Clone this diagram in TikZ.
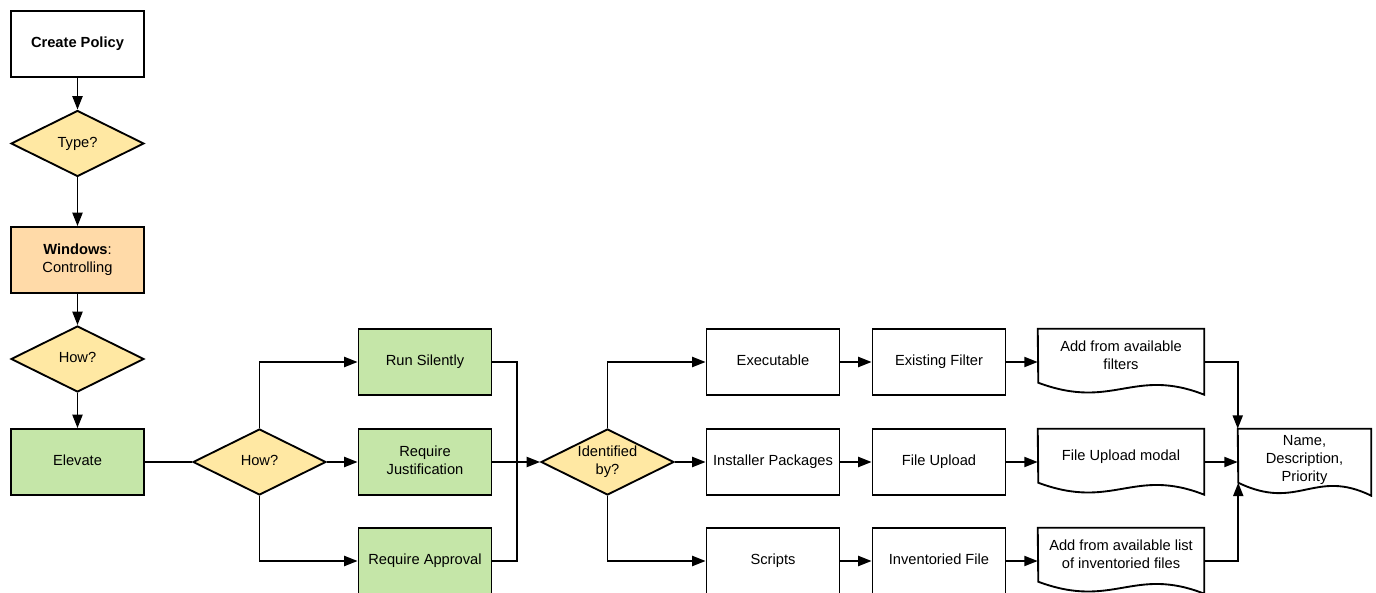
\documentclass[tikz,border=0pt]{standalone}
\usepackage{fontspec}
\setmainfont{Liberation Sans}
\usetikzlibrary{arrows.meta,shapes.geometric}
\definecolor{ylw}{HTML}{FFE8A3}
\definecolor{grn}{HTML}{C5E6A8}
\definecolor{org}{HTML}{FFDAA8}

\begin{document}
\begin{tikzpicture}[x=0.75pt,y=-0.75pt,
  font=\fontsize{11}{13.5}\selectfont,
  every node/.style={align=center, inner sep=0pt,
    execute at begin node={\vphantom{Ay}},
    execute at end node={\vphantom{Ay}}},
  box/.style={rectangle, draw=black, fill=white, line width=1.4pt,
    minimum width=99.75pt, minimum height=49.5pt},
  gbox/.style={box, fill=grn},
  obox/.style={box, fill=org},
  dec/.style={diamond, aspect=2, draw=black, fill=ylw, line width=1.4pt,
    minimum width=99.75pt, minimum height=49.5pt},
  doc/.style={rectangle, minimum width=124.5pt, minimum height=39pt},
  docline/.style={draw=black, fill=white, line width=1.4pt, line join=miter},
  link/.style={draw=black, line width=1.4pt},
  arr/.style={link, -{Triangle[length=10pt,width=7.5pt]}}
]
\useasboundingbox (0,0) rectangle (1376,592);
\clip (0,0) rectangle (1376,592);
\fill[white] (0,0) rectangle (1376,592);

% left column
\node[box]  (cp)   at (77.5,44)    {\textbf{Create Policy}};
\node[dec]  (type) at (77.5,143.5) {Type?};
\node[obox] (win)  at (77.5,260)   {\textbf{Windows}:\\Controlling};
\node[dec]  (how1) at (77.5,359)   {How?};
\node[gbox] (elev) at (77.5,462)   {Elevate};

% elevation mode
\node[dec]  (how2) at (259.5,462) {How?};
\node[gbox] (rs)   at (425,362)   {Run Silently};
\node[gbox] (rj)   at (425,462)   {Require\\Justification};
\node[gbox] (ra)   at (425,561)   {Require Approval};
\coordinate (mg) at (517,462);

% identification
\node[dec]  (idb)  at (607.5,462) {Identified\\by?};
\node[box]  (exe)  at (773,362)   {Executable};
\node[box]  (inst) at (773,462)   {Installer Packages};
\node[box]  (scr)  at (773,561)   {Scripts};
\node[box]  (ef)   at (939,362)   {Existing Filter};
\node[box]  (fu)   at (939,462)   {File Upload};
\node[box]  (inv)  at (939,561)   {Inventoried File};

% document outlines (wavy bottom)
\node[doc] (d1) at (1121,355) {};
\node[doc] (d2) at (1121,455) {};
\node[doc] (d3) at (1121,554) {};
\node[rectangle, minimum width=99.75pt, minimum height=43.5pt] (nm) at (1304.5,458) {};
\foreach \d in {d1,d2,d3}{
  \path[docline] (\d.north west) -- (\d.north east) -- ++(0,66)
    .. controls +(-71,-28) and +(75,28) .. ++(-166,-12) -- cycle;
}
\path[docline] (nm.north west) -- (nm.north east) -- ++(0,67)
  .. controls +(-57,-28) and +(60,29) .. ++(-133,-13) coordinate (nmbl) -- cycle;
\node[doc] (d1t) at (1121,357) {Add from available\\filters};
\node[doc] (d2t) at (1121,457) {File Upload modal};
\node[doc] (d3t) at (1121,556) {Add from available list\\of inventoried files};
\node (nmt) at (1304.5,460) {Name,\\Description,\\Priority};

% connectors
\draw[arr] (cp) -- (type);
\draw[arr] (type) -- (win);
\draw[arr] (win) -- (how1);
\draw[arr] (how1) -- (elev);
\draw[link] (elev) -- (how2);
\draw[arr] (how2.north) |- (rs);
\draw[arr] (how2) -- (rj);
\draw[arr] (how2.south) |- (ra);
\draw[link] (rs.east) -| (mg);
\draw[link] (ra.east) -| (mg);
\draw[arr] (rj) -- (idb);
\draw[arr] (idb.north) |- (exe);
\draw[arr] (idb) -- (inst);
\draw[arr] (idb.south) |- (scr);
\draw[arr] (exe) -- (ef);
\draw[arr] (inst) -- (fu);
\draw[arr] (scr) -- (inv);
\draw[arr] (ef.east) -- (ef.east -| d1.west);
\draw[arr] (fu.east) -- (fu.east -| d2.west);
\draw[arr] (inv.east) -- (inv.east -| d3.west);
\draw[arr] (ef.east -| d1.east) -| (nm.north west);
\draw[arr] (fu.east -| d2.east) -- (fu.east -| nm.west);
\draw[arr] (inv.east -| d3.east) -| (nmbl);
\end{tikzpicture}
\end{document}
